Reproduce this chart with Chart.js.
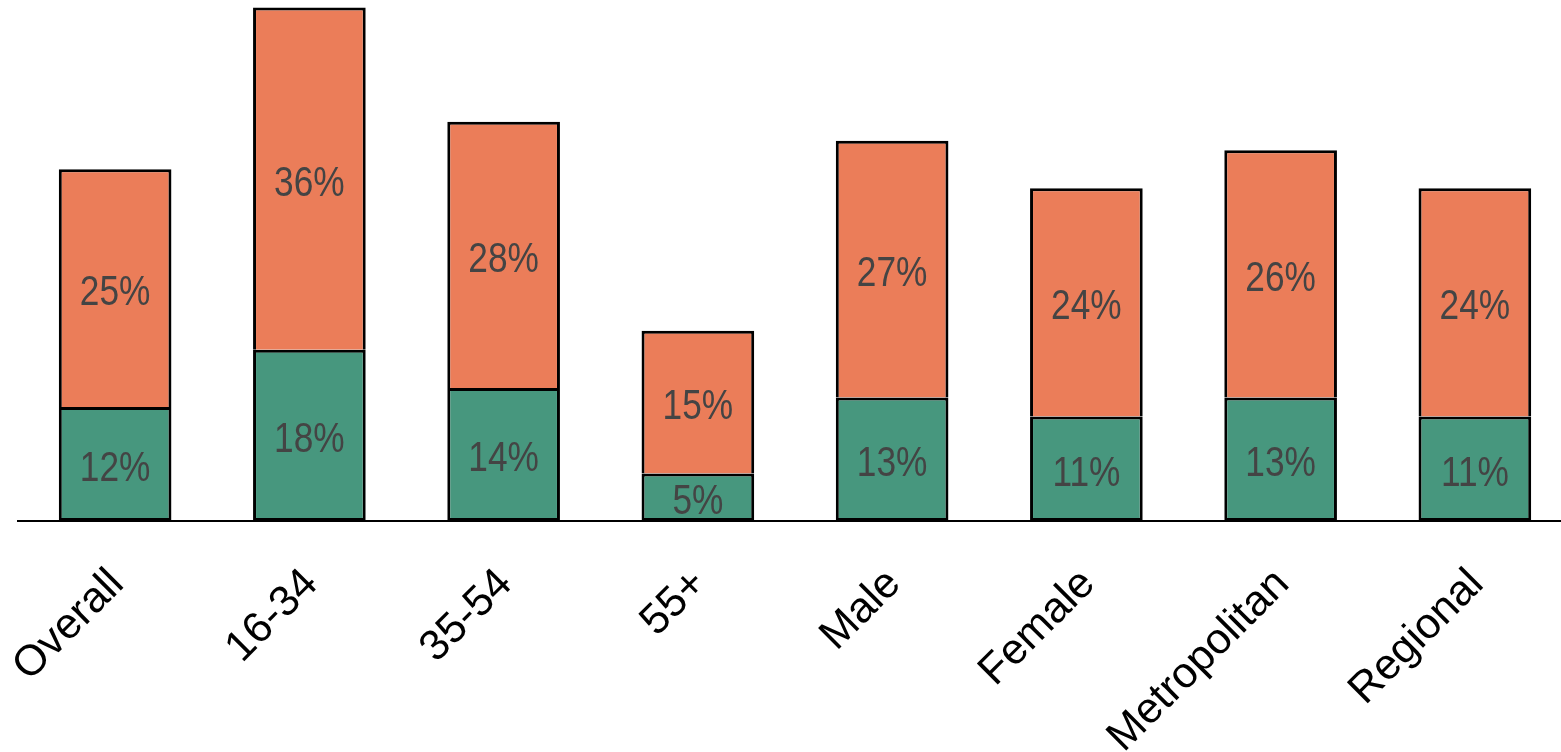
<!DOCTYPE html>
<html>
<head>
<meta charset="utf-8">
<script src="https://cdn.jsdelivr.net/npm/chart.js@4/dist/chart.umd.min.js"></script>
<style>
  html, body { margin: 0; padding: 0; background: #fff; overflow: hidden; }
  #wrap { width: 1575px; height: 752px; }
</style>
</head>
<body>
<div id="wrap"><canvas id="chart"></canvas></div>
<script>
// categories along the x axis
const categories = ['Overall', '16-34', '35-54', '55+', 'Male', 'Female', 'Metropolitan', 'Regional'];
// bottom (green) segment values, %
const greenValues = [12, 18, 14, 5, 13, 11, 13, 11];
// top (orange) segment values, %
const orangeValues = [25, 36, 28, 15, 27, 24, 26, 24];

// draw the % label in the middle of every segment (slightly condensed text)
const segmentLabels = {
    id: 'segmentLabels',
    afterDatasetsDraw(chart) {
        const ctx = chart.ctx;
        const squeeze = 0.82;
        ctx.save();
        ctx.font = '43px "Liberation Sans", Arial, sans-serif';
        ctx.fillStyle = '#444444';
        ctx.textAlign = 'center';
        ctx.textBaseline = 'middle';
        chart.data.datasets.forEach((ds, i) => {
            const meta = chart.getDatasetMeta(i);
            meta.data.forEach((bar, j) => {
                const y = (bar.y + bar.base) / 2;
                ctx.save();
                ctx.translate(bar.x, y + 5);
                ctx.scale(squeeze, 1);
                ctx.fillText(ds.data[j] + '%', 0, 0);
                ctx.restore();
            });
        });
        ctx.restore();
    }
};

const ctx = document.getElementById('chart').getContext('2d');
const chart = new Chart(ctx, {
    type: 'bar',
    data: {
        labels: categories,
        datasets: [{
            data: greenValues,
            backgroundColor: '#47977e',
            borderColor: '#000000',
            borderWidth: 3,
            borderSkipped: false,
            barPercentage: 0.58,
            categoryPercentage: 1
        }, {
            data: orangeValues,
            backgroundColor: '#eb7d59',
            borderColor: '#000000',
            borderWidth: 3,
            borderSkipped: 'bottom', // green top edge already draws the join
            barPercentage: 0.58,
            categoryPercentage: 1
        }]
    },
    options: {
        responsive: true,
        maintainAspectRatio: false,
        animation: false,
        layout: { padding: { top: 0, left: 18, right: 3 } },
        plugins: {
            legend: { display: false },
            tooltip: { enabled: false }
        },
        scales: {
            x: {
                stacked: true,
                grid: { display: false },
                border: { display: true, color: '#000000', width: 2 },
                ticks: {
                    color: '#000000',
                    font: { family: '"Liberation Sans", Arial, sans-serif', size: 43 },
                    minRotation: 45,
                    maxRotation: 45,
                    padding: 30,
                    labelOffset: 2
                },
                afterFit(scale) {
                    scale.height = 231;
                    // keep the rotated first label from pushing the plot right
                    scale.paddingLeft = 0;
                    scale.paddingRight = 0;
                }
            },
            y: {
                stacked: true,
                display: false,
                min: 0,
                max: 54.8
            }
        }
    },
    plugins: [segmentLabels]
});
</script>
</body>
</html>
